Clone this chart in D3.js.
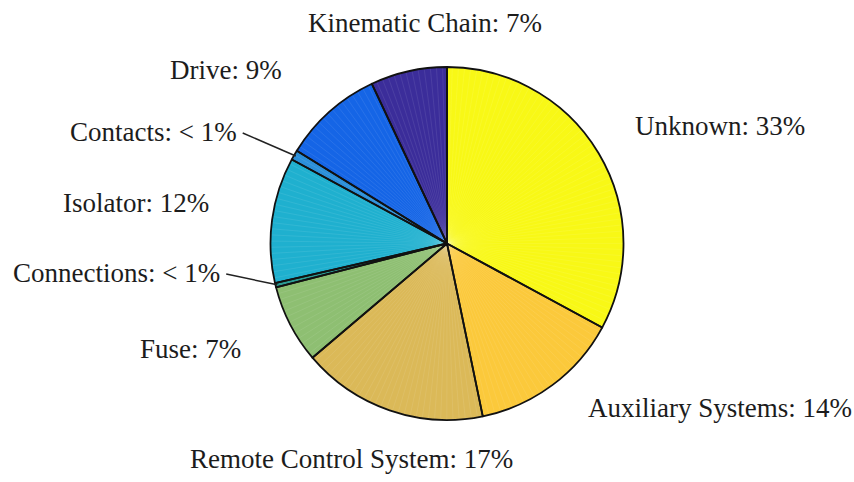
<!DOCTYPE html>
<html>
<head>
<meta charset="utf-8">
<script src="https://cdn.jsdelivr.net/npm/d3@7"></script>
<style>
  body { margin: 0; background: #fff; }
  text { font-family: "Liberation Serif", "Times New Roman", serif; fill: #1c1c1c; }
</style>
</head>
<body>
<div id="chart"></div>
<script>
// data, clockwise from 12 o'clock
const categories = ["Unknown", "Auxiliary Systems", "Remote Control System", "Fuse", "Connections",
                    "Isolator", "Contacts", "Drive", "Kinematic Chain"];
const shares = [32.9, 13.85, 17.05, 7.2, 0.4, 11.5, 0.9, 9.2, 7.0];
const shareLabels = ["33%", "14%", "17%", "7%", "< 1%", "12%", "< 1%", "9%", "7%"];
const colors = ["#f8f816", "#fbc93b", "#dbb958", "#8ebf72", "#2d9c94",
                "#1fb0cf", "#2b8fd9", "#1565e6", "#3b2d9a"];

// label layout (the labels were hand placed in the original)
const labelX = [635, 588, 190, 140, 13, 63, 70, 170, 308];
const labelY = [135, 417, 468, 358, 282, 212, 141, 79, 32];
const leader = [false, false, false, false, true, false, true, false, false];

const width = 854, height = 482;
const cx = 447, cy = 243.5, radius = 176.5;

const svg = d3.select("#chart")
    .append("svg")
    .attr("width", width)
    .attr("height", height);

const g = svg.append("g")
    .attr("transform", `translate(${cx},${cy})`);

const data = categories.map((c, i) => ({name: c, value: shares[i], i}));

const pie = d3.pie()
    .value(d => d.value)
    .sort(null);
const arcs = pie(data);

const arc = d3.arc()
    .innerRadius(0)
    .outerRadius(radius);

g.selectAll(".slice")
    .data(arcs)
    .enter()
    .append("path")
    .attr("class", "slice")
    .attr("fill", d => colors[d.data.i])
    .attr("d", arc);

// faint radial streaks like the original rendering
const streaks = [];
arcs.forEach(a => {
    for (let t = a.startAngle + 0.03; t < a.endAngle - 0.01; t += 0.035) streaks.push(t);
});
g.selectAll(".streak")
    .data(streaks)
    .enter()
    .append("line")
    .attr("x1", 0).attr("y1", 0)
    .attr("x2", t => radius * Math.sin(t))
    .attr("y2", t => -radius * Math.cos(t))
    .attr("stroke", "#fff")
    .attr("stroke-opacity", 0.12)
    .attr("stroke-width", 0.7);

g.selectAll(".outline")
    .data(arcs)
    .enter()
    .append("path")
    .attr("fill", "none")
    .attr("stroke", "#111")
    .attr("stroke-width", 1.8)
    .attr("stroke-linejoin", "round")
    .attr("d", arc);

// labels
const labels = svg.selectAll(".label")
    .data(arcs)
    .enter()
    .append("text")
    .attr("class", "label")
    .attr("x", d => labelX[d.data.i])
    .attr("y", d => labelY[d.data.i])
    .attr("font-size", 27)
    .text(d => `${d.data.name}: ${shareLabels[d.data.i]}`);

// leader lines for the thin slices
labels.each(function(d) {
    if (!leader[d.data.i]) return;
    const bb = this.getBBox();
    const mid = (d.startAngle + d.endAngle) / 2;
    svg.append("line")
        .attr("x1", bb.x + bb.width + 6)
        .attr("y1", labelY[d.data.i] - 8)
        .attr("x2", cx + radius * 0.99 * Math.sin(mid))
        .attr("y2", cy - radius * 0.99 * Math.cos(mid))
        .attr("stroke", "#222")
        .attr("stroke-width", 1.5);
});
</script>
</body>
</html>
